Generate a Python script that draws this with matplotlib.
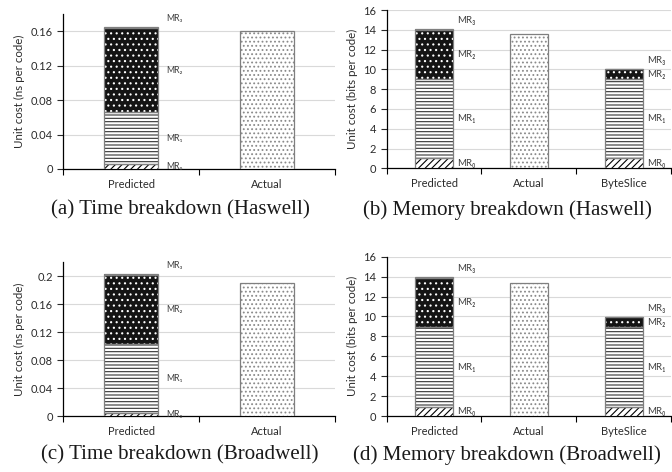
import matplotlib
matplotlib.use("Agg")
import matplotlib.pyplot as plt
import numpy as np

plt.rcParams["font.family"] = ["Lato", "DejaVu Sans"]
plt.rcParams["hatch.linewidth"] = 0.8

# stacked model components (MR0..MR3) per category; zeros where the bar is the measured one
TIME_CATS = ["Predicted", "Actual"]
MEM_CATS = ["Predicted", "Actual", "ByteSlice"]

TIME_HASWELL_MR = [[0.006, 0], [0.060, 0], [0.098, 0], [0.001, 0]]
TIME_HASWELL_ACTUAL = [0, 0.160]

MEM_HASWELL_MR = [[1.0, 0, 1.0], [8.0, 0, 8.0], [5.0, 0, 1.0], [0.05, 0, 0.05]]
MEM_HASWELL_ACTUAL = [0, 13.6, 0]

TIME_BROADWELL_MR = [[0.005, 0], [0.098, 0], [0.099, 0], [0.001, 0]]
TIME_BROADWELL_ACTUAL = [0, 0.190]

MEM_BROADWELL_MR = [[0.9, 0, 0.9], [8.0, 0, 8.0], [5.0, 0, 1.0], [0.05, 0, 0.05]]
MEM_BROADWELL_ACTUAL = [0, 13.4, 0]

MR_NAMES = ["MR\u2080", "MR\u2081", "MR\u2082", "MR\u2083"]

# (facecolor, hatch, hatch colour) for each component, then the measured bar
MR_STYLE = [
    ("white", "/////", "black"),
    ("white", "-----", "#333333"),
    ("#141414", "...", "white"),
    ("white", "....", "black"),
]
ACTUAL_STYLE = ("white", "....", "#8a8a8a")
EDGE = "#7f7f7f"
GRID = "#d9d9d9"
INK = "#2b2b2b"
WIDTH = 0.4


def hatched_bar(ax, x, h, bottom, style):
    face, hatch, hcol = style
    ax.bar(x, h, WIDTH, bottom=bottom, color=face, edgecolor=hcol, hatch=hatch,
           linewidth=0, zorder=3)
    ax.bar(x, h, WIDTH, bottom=bottom, fill=False, edgecolor=EDGE, linewidth=0.9, zorder=4)


def draw_panel(ax, cats, mr, actual, ylim, yticks, fmt, ylabel, label_size, label_pad):
    x = np.arange(len(cats))
    mr = np.asarray(mr, dtype=float)
    actual = np.asarray(actual, dtype=float)

    bottom = np.zeros(len(cats))
    for i, seg in enumerate(mr):
        for xi in x:
            if seg[xi] > 0:
                hatched_bar(ax, xi, seg[xi], bottom[xi], MR_STYLE[i])
        bottom += seg
    for xi in x:
        if actual[xi] > 0:
            hatched_bar(ax, xi, actual[xi], 0, ACTUAL_STYLE)

    # component labels to the right of each stacked bar
    for xi in x:
        if mr[:, xi].sum() == 0:
            continue
        base = 0.0
        for i, seg in enumerate(mr[:, xi]):
            if i == len(mr) - 1:
                ax.annotate(MR_NAMES[i], (xi + WIDTH / 2, base + seg), xytext=(label_pad, 6),
                            textcoords="offset points", fontsize=label_size, color="#404040",
                            va="center", ha="left")
            else:
                ax.annotate(MR_NAMES[i], (xi + WIDTH / 2, base + seg / 2), xytext=(label_pad, 0),
                            textcoords="offset points", fontsize=label_size, color="#404040",
                            va="center", ha="left")
            base += seg

    ax.set_xlim(-0.5, len(cats) - 0.5)
    ax.set_ylim(*ylim)
    ax.set_yticks(yticks)
    ax.set_yticklabels([fmt(t) for t in yticks])
    ax.set_xticks(x)
    ax.set_xticklabels(cats)
    ax.set_xticks(np.arange(len(cats) + 1) - 0.5, minor=True)
    ax.tick_params(axis="x", which="major", length=0, labelsize=8, pad=7, colors=INK)
    ax.tick_params(axis="x", which="minor", length=4, width=0.8, direction="out")
    ax.tick_params(axis="y", length=4, width=0.8, direction="out", labelsize=8, colors=INK)
    ax.set_ylabel(ylabel, fontsize=8.3, color=INK, labelpad=4)

    ax.yaxis.grid(True, color=GRID, linewidth=0.8, zorder=0)
    ax.set_axisbelow(True)
    for side in ("top", "right"):
        ax.spines[side].set_visible(False)
    ax.spines["left"].set_linewidth(0.9)
    ax.spines["bottom"].set_linewidth(0.9)


def fmt_time(t):
    return "0" if t == 0 else f"{t:g}"


def fmt_mem(t):
    return f"{int(t)}"


fig = plt.figure(figsize=(6.72, 4.72), dpi=100)
ax_a = fig.add_axes([0.0942, 0.642, 0.4043, 0.328])
ax_b = fig.add_axes([0.5754, 0.6434, 0.4231, 0.3354])
ax_c = fig.add_axes([0.0942, 0.1186, 0.4043, 0.3263])
ax_d = fig.add_axes([0.5754, 0.1186, 0.4231, 0.3376])

draw_panel(ax_a, TIME_CATS, TIME_HASWELL_MR, TIME_HASWELL_ACTUAL, (0, 0.18),
           [0, 0.04, 0.08, 0.12, 0.16], fmt_time, "Unit cost (ns per code)", 6.3, 6)
draw_panel(ax_b, MEM_CATS, MEM_HASWELL_MR, MEM_HASWELL_ACTUAL, (0, 16),
           list(range(0, 17, 2)), fmt_mem, "Unit cost (bits per code)", 7.0, 3)
draw_panel(ax_c, TIME_CATS, TIME_BROADWELL_MR, TIME_BROADWELL_ACTUAL, (0, 0.22),
           [0, 0.04, 0.08, 0.12, 0.16, 0.2], fmt_time, "Unit cost (ns per code)", 6.3, 6)
draw_panel(ax_d, MEM_CATS, MEM_BROADWELL_MR, MEM_BROADWELL_ACTUAL, (0, 16),
           list(range(0, 17, 2)), fmt_mem, "Unit cost (bits per code)", 7.0, 3)

cap = dict(family="Liberation Serif", fontsize=15.1, ha="center", va="center", color="#1a1a1a")
fig.text(180 / 672, 1 - 210 / 472, "(a) Time breakdown (Haswell)", **cap)
fig.text(507 / 672, 1 - 210 / 472, "(b) Memory breakdown (Haswell)", **cap)
fig.text(180 / 672, 1 - 455 / 472, "(c) Time breakdown (Broadwell)", **cap)
fig.text(507 / 672, 1 - 455 / 472, "(d) Memory breakdown (Broadwell)", **cap)

fig.savefig("out.png", dpi=100)
